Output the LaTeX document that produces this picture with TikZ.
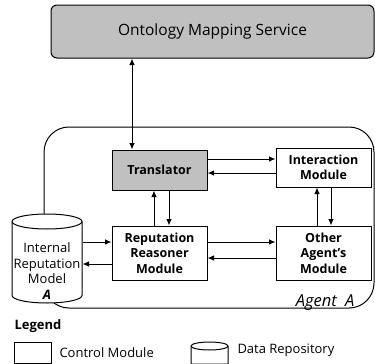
\documentclass[tikz,border=0pt]{standalone}
\usepackage{fontspec}
\setmainfont{Open Sans}
\usetikzlibrary{arrows.meta}
\begin{document}
\begin{tikzpicture}[x=1pt,y=-1pt,
  line width=1pt,
  box/.style={draw, rectangle, minimum width=95pt, align=center,
    font=\fontsize{12.5}{15.5}\selectfont\bfseries, inner sep=0pt},
  arr/.style={-{Latex[length=6.5pt,width=5.5pt]}},
  dbl/.style={{Latex[length=6.5pt,width=5.5pt]}-{Latex[length=6.5pt,width=5.5pt]}},
  plain/.style={font=\fontsize{13}{15.7}\selectfont, inner sep=0pt},
]
\definecolor{boxgray}{RGB}{192,192,192}
\useasboundingbox (0,0) rectangle (375,364);

% Agent box
\draw[rounded corners=25pt] (44,127) rectangle (374,308);
\node[font=\fontsize{16.5}{18}\selectfont\itshape, inner sep=0pt] (agentlbl) at (325,303) {Agent\hspace{0.5em}A};

% Ontology service
\node[draw, rounded corners=6pt, fill=boxgray, minimum width=323pt, minimum height=53pt,
  font=\fontsize{15.5}{18}\selectfont, inner sep=0pt] (ont) at (212.5,31.5) {Ontology Mapping Service};

% Modules
\node[box, fill=boxgray, minimum height=40pt] (tr) at (159.5,170) {Translator};
\node[box, minimum height=39pt] (int) at (323.5,167.5) {Interaction\\Module};
\node[box, minimum height=54pt] (rr) at (159.5,253) {Reputation\\Reasoner\\Module};
\node[box, minimum height=54pt] (oa) at (323.5,253) {Other\\Agent's\\Module};

% Cylinder (Internal Reputation Model)
\draw[fill=white] (12,221.5) -- (12,295.5)
  arc[start angle=180, end angle=360, x radius=35pt, y radius=7.5pt]
  -- (82,221.5)
  arc[start angle=0, end angle=180, x radius=35pt, y radius=7.5pt] -- cycle;
\draw (12,221.5) arc[start angle=180, end angle=360, x radius=35pt, y radius=7.5pt];
\node[plain, minimum width=70pt, minimum height=74pt, align=center] (irm) at (47,271)
  {Internal\\Reputation\\Model\\\textbf{\textit{A}}};

% Connectors
\coordinate (xa) at (132,0);
\coordinate (xb) at (154,0);
\coordinate (xc) at (169,0);
\coordinate (xd) at (317,0);
\coordinate (xe) at (331,0);
\coordinate (ya) at (0,159);
\coordinate (yb) at (0,173);
\coordinate (yc) at (0,242);
\coordinate (yd) at (0,258);
\coordinate (ye) at (0,264);

\draw[dbl] (xa |- ont.south) -- (xa |- tr.north);
\draw[arr] (tr.east |- ya) -- (int.west |- ya);
\draw[arr] (int.west |- yb) -- (tr.east |- yb);
\draw[arr] (xb |- rr.north) -- (xb |- tr.south);
\draw[arr] (xc |- tr.south) -- (xc |- rr.north);
\draw[arr] (xd |- oa.north) -- (xd |- int.south);
\draw[arr] (xe |- int.south) -- (xe |- oa.north);
\draw[arr] (rr.east |- yc) -- (oa.west |- yc);
\draw[arr] (oa.west |- yd) -- (rr.east |- yd);
\draw[arr] (irm.east |- yc) -- (rr.west |- yc);
\draw[arr] (rr.west |- ye) -- (irm.east |- ye);

% Legend
\node[font=\fontsize{13}{15}\selectfont\bfseries, anchor=west, inner sep=0pt] (legend) at (14,326) {Legend};
\node[draw, rectangle, minimum width=37pt, minimum height=21pt, inner sep=0pt] (lcm) at (32.5,352.5) {};
\node[plain, anchor=west] (lcmt) at (59,353) {Control Module};
\draw[fill=white] (191,346) -- (191,364) -- (228,364) -- (228,346)
  arc[start angle=0, end angle=180, x radius=18.5pt, y radius=4pt];
\draw (191,346) arc[start angle=180, end angle=360, x radius=18.5pt, y radius=4pt];
\node[plain, anchor=west] (ldrt) at (237,350) {Data Repository};
\end{tikzpicture}
\end{document}
